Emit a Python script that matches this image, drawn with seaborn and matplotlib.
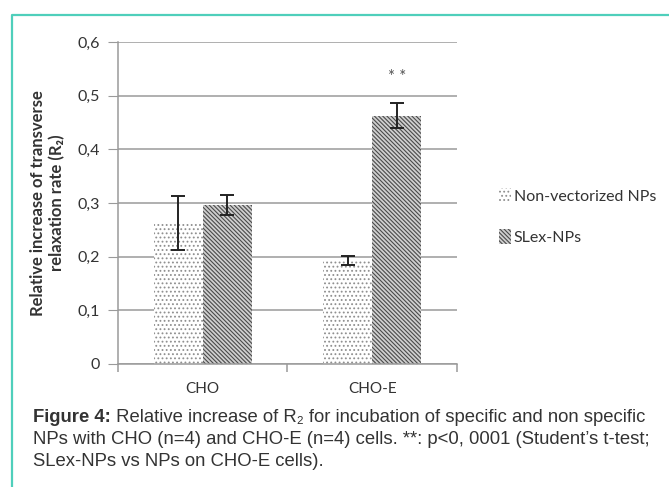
import matplotlib
matplotlib.use('Agg')
import matplotlib.pyplot as plt
from matplotlib.patches import Patch
from matplotlib.lines import Line2D
import seaborn as sns
import pandas as pd

# values
cells = ['CHO', 'CHO-E']
series = ['Non-vectorized NPs', 'SLex-NPs']
means = {'Non-vectorized NPs': [0.263, 0.193], 'SLex-NPs': [0.296, 0.463]}
errs = {'Non-vectorized NPs': [0.050, 0.008], 'SLex-NPs': [0.018, 0.023]}
yticks = [0, 0.1, 0.2, 0.3, 0.4, 0.5, 0.6]
ytick_labels = ['0', '0,1', '0,2', '0,3', '0,4', '0,5', '0,6']

rows = []
for s in series:
    for c, m, e in zip(cells, means[s], errs[s]):
        rows.append({'cell': c, 'series': s, 'value': m, 'err': e})
df = pd.DataFrame(rows)

sns.set_style('white')
plt.rcParams['font.family'] = ['Lato', 'DejaVu Sans']
plt.rcParams['hatch.linewidth'] = 0.8

fig = plt.figure(figsize=(6.69, 4.87), dpi=100)
ax = fig.add_axes([0.1764, 0.2526, 0.683 - 0.1764, 0.9138 - 0.2526])

sns.barplot(data=df, x='cell', y='value', hue='series', order=cells,
            hue_order=series, errorbar=None, width=0.58, gap=0,
            ax=ax, legend=False, zorder=2)

styles = {
    'Non-vectorized NPs': dict(face='#ffffff', hatch='....', edge='#8f8f8f'),
    'SLex-NPs': dict(face='#cfcfcf', hatch='\\\\\\\\\\\\\\\\', edge='#4a4a4a'),
}

bars = ax.patches
i = 0
for s in series:
    st = styles[s]
    for c in cells:
        p = bars[i]
        p.set_facecolor(st['face'])
        p.set_edgecolor(st['edge'])
        p.set_hatch(st['hatch'])
        p.set_linewidth(0)
        row = df[(df.series == s) & (df.cell == c)].iloc[0]
        xc = p.get_x() + p.get_width() / 2
        ax.errorbar(xc, row['value'], yerr=row['err'], color='#222222',
                    lw=1.4, capsize=5, capthick=1.4, zorder=3)
        if s == 'SLex-NPs' and c == 'CHO-E':
            ax.text(xc, 0.535, '* *', ha='center', va='center',
                    fontsize=12, color='#555555')
        i += 1

ax.set_ylim(0, 0.6)
ax.set_xlim(-0.5, 1.5)
ax.set_yticks(yticks)
ax.set_yticklabels(ytick_labels)
ax.yaxis.grid(True, color='#9a9a9a', lw=1.1, zorder=0)
ax.set_axisbelow(True)
for sp in ['top', 'right']:
    ax.spines[sp].set_visible(False)
for sp in ['left', 'bottom']:
    ax.spines[sp].set_color('#9a9a9a')
    ax.spines[sp].set_linewidth(1.1)

ax.tick_params(axis='y', left=True, length=7, color='#9a9a9a',
               labelsize=11.5, labelcolor='#333333', pad=6)
ax.tick_params(axis='x', which='major', length=0, labelsize=11,
               labelcolor='#333333', pad=13)
ax.set_xticks([-0.5, 0.5, 1.5], minor=True)
ax.tick_params(axis='x', which='minor', bottom=True, length=6,
               color='#9a9a9a', width=1.1)
ax.set_xlabel('')
ax.set_ylabel('Relative increase of transverse\nrelaxation rate (R₂)',
              fontsize=12, fontweight='bold', color='#333333', labelpad=9)

handles = [Patch(facecolor=styles[s]['face'], edgecolor=styles[s]['edge'],
                 hatch=styles[s]['hatch'], lw=0) for s in series]
fig.legend(handles, series, loc='center left',
           bbox_to_anchor=(0.725, 0.555), frameon=False,
           handlelength=0.7, handleheight=1.0, handletextpad=0.2,
           labelspacing=1.6, prop={'size': 11.5}, labelcolor='#333333')

# teal frame
fig.add_artist(Line2D([12 / 669, 12 / 669, 1.0], [0, 1 - 15 / 487, 1 - 15 / 487],
                      transform=fig.transFigure, color='#4fcfbb', lw=1.6))

# caption
cap_font = ['Liberation Sans', 'DejaVu Sans']
cap_size = 13.3
t1 = fig.text(33 / 669, 1 - 418 / 487, 'Figure 4:', fontsize=cap_size,
              fontweight='bold', family=cap_font, color='#333333', va='center')
ax.annotate(' Relative increase of R₂ for incubation of specific and non specific',
            xy=(1, 0), xycoords=t1, va='bottom', ha='left', fontsize=cap_size,
            family=cap_font, color='#333333', annotation_clip=False)
fig.text(33 / 669, 1 - 440 / 487,
         'NPs with CHO (n=4) and CHO-E (n=4) cells. **: p<0, 0001 (Student\u2019s t-test;',
         fontsize=cap_size, family=cap_font, color='#333333', va='center')
fig.text(33 / 669, 1 - 462 / 487, 'SLex-NPs vs NPs on CHO-E cells).',
         fontsize=cap_size, family=cap_font, color='#333333', va='center')

fig.savefig('out.png', dpi=100)
